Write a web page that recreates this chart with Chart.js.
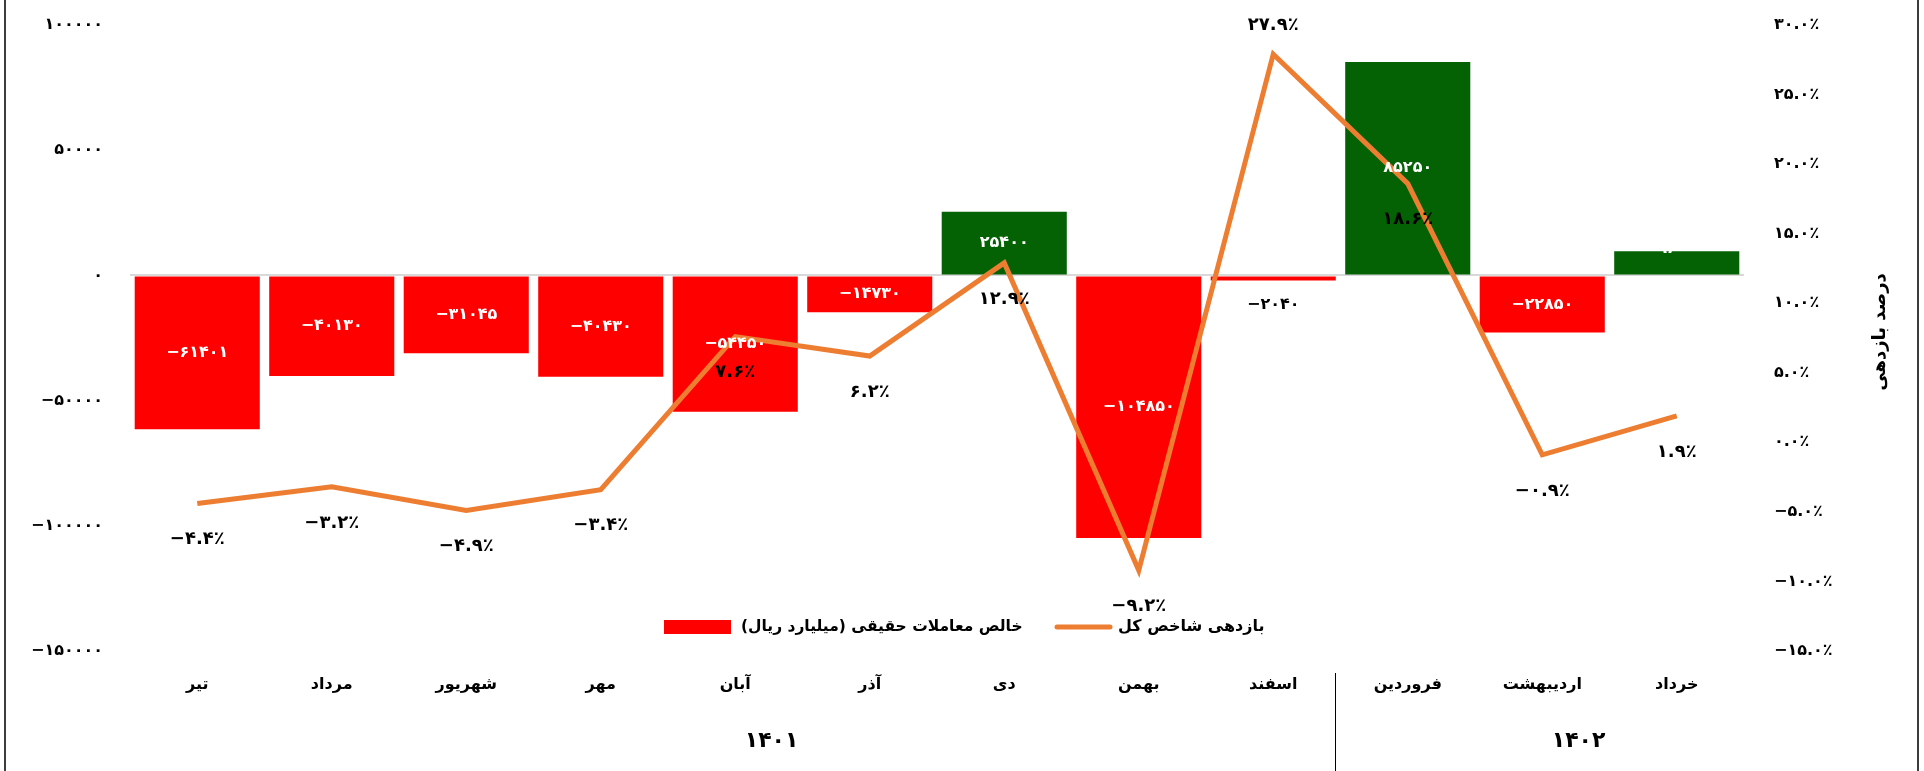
<!DOCTYPE html>
<html>
<head>
<meta charset="utf-8">
<script src="https://cdn.jsdelivr.net/npm/chart.js@4.4.1/dist/chart.umd.min.js"></script>
<style>
  html, body { margin: 0; padding: 0; background: #fff; }
  #wrap { width: 1924px; height: 771px; }
</style>
</head>
<body>
<div id="wrap"><canvas id="chart" width="1924" height="771"></canvas></div>
<script>
// --- data ---
const months = ['تیر', 'مرداد', 'شهریور', 'مهر', 'آبان', 'آذر', 'دی', 'بهمن', 'اسفند', 'فروردین', 'اردیبهشت', 'خرداد'];
const netRealFlow = [-61401, -40130, -31045, -40430, -54450, -14730, 25400, -104850, -2040, 85250, -22850, 9600];
const indexReturn = [-4.4, -3.2, -4.9, -3.4, 7.6, 6.2, 12.9, -9.2, 27.9, 18.6, -0.9, 1.9];
const yearLabels = ['۱۴۰۱', '۱۴۰۲'];
const yearFirstMonth = [0, 9];
const seriesNames = ['خالص معاملات حقیقی (میلیارد ریال)', 'بازدهی شاخص کل'];
const rightAxisTitle = 'درصد بازدهی';

const colors = {
    red: '#FF0000',
    green: '#046104',
    orange: '#ED7D31',
    zero: '#D9D9D9',
    text: '#000000',
    frame: '#3C3C3C'
};
const FONT = "'DejaVu Sans', sans-serif";

// ارقام فارسی
const fa = s => String(s).replace(/\d/g, d => '۰۱۲۳۴۵۶۷۸۹'[d]).replace('-', '−');
const pct = v => fa(v.toFixed(1)) + '٪';

// برچسب ستون ها و خط
const labelsPlugin = {
    id: 'labels',
    afterDatasetsDraw(chart) {
        const { ctx } = chart;
        ctx.save();
        ctx.textAlign = 'center';
        ctx.textBaseline = 'middle';

        const bars = chart.getDatasetMeta(0).data;
        ctx.font = `bold 16px ${FONT}`;
        bars.forEach((bar, i) => {
            const v = netRealFlow[i];
            const h = Math.abs(bar.base - bar.y);
            const txt = fa(v);
            if (h < 14) {
                ctx.fillStyle = colors.text;
                ctx.fillText(txt, bar.x, bar.base + 28);
            } else if (h < 30) {
                ctx.fillStyle = '#FFFFFF';
                ctx.fillText(txt, bar.x, Math.min(bar.y, bar.base) - 3);
            } else {
                ctx.fillStyle = '#FFFFFF';
                ctx.fillText(txt, bar.x, (bar.y + bar.base) / 2);
            }
        });

        const pts = chart.getDatasetMeta(1).data;
        ctx.font = `bold 18px ${FONT}`;
        ctx.fillStyle = colors.text;
        const maxIdx = indexReturn.indexOf(Math.max(...indexReturn));
        pts.forEach((p, i) => {
            const dy = i === maxIdx ? -29 : 36;
            ctx.fillText(pct(indexReturn[i]), p.x, p.y + dy);
        });
        ctx.restore();
    },
    afterDraw(chart) {
        const { ctx, chartArea } = chart;
        const x = chart.scales.x;
        const catW = (chartArea.right - chartArea.left) / months.length;
        ctx.save();

        // جداکننده سال ها و برچسب سال
        ctx.strokeStyle = '#000';
        ctx.lineWidth = 1;
        const sepX = Math.round(chartArea.left + yearFirstMonth[1] * catW) - 5.5;
        ctx.beginPath();
        ctx.moveTo(sepX, chartArea.bottom + 22);
        ctx.lineTo(sepX, chart.height);
        ctx.stroke();

        ctx.font = `bold 22px ${FONT}`;
        ctx.fillStyle = colors.text;
        ctx.textAlign = 'center';
        ctx.textBaseline = 'middle';
        yearLabels.forEach((lbl, k) => {
            const first = yearFirstMonth[k];
            const last = k + 1 < yearFirstMonth.length ? yearFirstMonth[k + 1] - 1 : months.length - 1;
            const cx = (x.getPixelForValue(first) + x.getPixelForValue(last)) / 2 + 0.27 * catW;
            ctx.fillText(lbl, cx, 741);
        });

        // راهنما
        const ly = 627;
        ctx.textAlign = 'left';
        ctx.fillStyle = colors.red;
        ctx.fillRect(664, ly - 7, 67, 14);
        ctx.fillStyle = colors.text;
        ctx.font = `bold 15.5px ${FONT}`;
        ctx.fillText(seriesNames[0], 741, ly);
        ctx.strokeStyle = colors.orange;
        ctx.lineWidth = 5;
        ctx.lineCap = 'round';
        ctx.beginPath();
        ctx.moveTo(1057, ly);
        ctx.lineTo(1110, ly);
        ctx.stroke();
        ctx.font = `bold 16px ${FONT}`;
        ctx.fillText(seriesNames[1], 1118, ly);

        // عنوان محور راست
        ctx.save();
        ctx.translate(1880, 332);
        ctx.rotate(-Math.PI / 2);
        ctx.textAlign = 'center';
        ctx.font = `bold 18px ${FONT}`;
        ctx.fillText(rightAxisTitle, 0, 0);
        ctx.restore();

        // قاب
        ctx.strokeStyle = colors.frame;
        ctx.lineWidth = 2;
        ctx.lineCap = 'butt';
        [5, 1918].forEach(fx => {
            ctx.beginPath();
            ctx.moveTo(fx, 0);
            ctx.lineTo(fx, chart.height);
            ctx.stroke();
        });
        ctx.restore();
    }
};

// پهنای ثابت محورها؛ فاصله برچسب ها به ناحیه رسم اضافه نشود
const fixAxis = w => s => {
    s.width = w;
    s.paddingTop = 0;
    s.paddingBottom = 0;
};

new Chart(document.getElementById('chart'), {
    data: {
        labels: months,
        datasets: [
            {
                type: 'bar',
                label: seriesNames[0],
                data: netRealFlow,
                backgroundColor: netRealFlow.map(v => v >= 0 ? colors.green : colors.red),
                borderWidth: 0,
                barPercentage: 0.93,
                categoryPercentage: 1,
                yAxisID: 'y',
                order: 1
            },
            {
                type: 'line',
                label: seriesNames[1],
                data: indexReturn,
                borderColor: colors.orange,
                borderWidth: 5,
                pointRadius: 0,
                tension: 0,
                yAxisID: 'y1',
                order: 0
            }
        ]
    },
    options: {
        responsive: false,
        animation: false,
        layout: { padding: { top: 25, left: 0, right: 0, bottom: 0 } },
        plugins: { legend: { display: false }, tooltip: { enabled: false } },
        scales: {
            x: {
                grid: { display: false, drawTicks: false },
                border: { display: false },
                ticks: { color: colors.text, font: { family: FONT, size: 16, weight: 'bold' }, padding: 24, maxRotation: 0 },
                afterFit(s) { s.height = 120; }
            },
            y: {
                position: 'left',
                min: -150000,
                max: 100000,
                border: { display: false },
                grid: {
                    drawTicks: false,
                    color: c => c.tick.value === 0 ? colors.zero : 'transparent',
                    lineWidth: 2
                },
                ticks: {
                    stepSize: 50000,
                    padding: 27,
                    color: colors.text,
                    font: { family: FONT, size: 16, weight: 'bold' },
                    callback: v => fa(v)
                },
                afterFit: fixAxis(130)
            },
            y1: {
                position: 'right',
                min: -15,
                max: 30,
                border: { display: false },
                grid: { display: false, drawTicks: false },
                ticks: {
                    stepSize: 5,
                    padding: 30,
                    color: colors.text,
                    font: { family: FONT, size: 16, weight: 'bold' },
                    callback: v => pct(v)
                },
                afterFit: fixAxis(180)
            }
        }
    },
    plugins: [labelsPlugin]
});
</script>
</body>
</html>
